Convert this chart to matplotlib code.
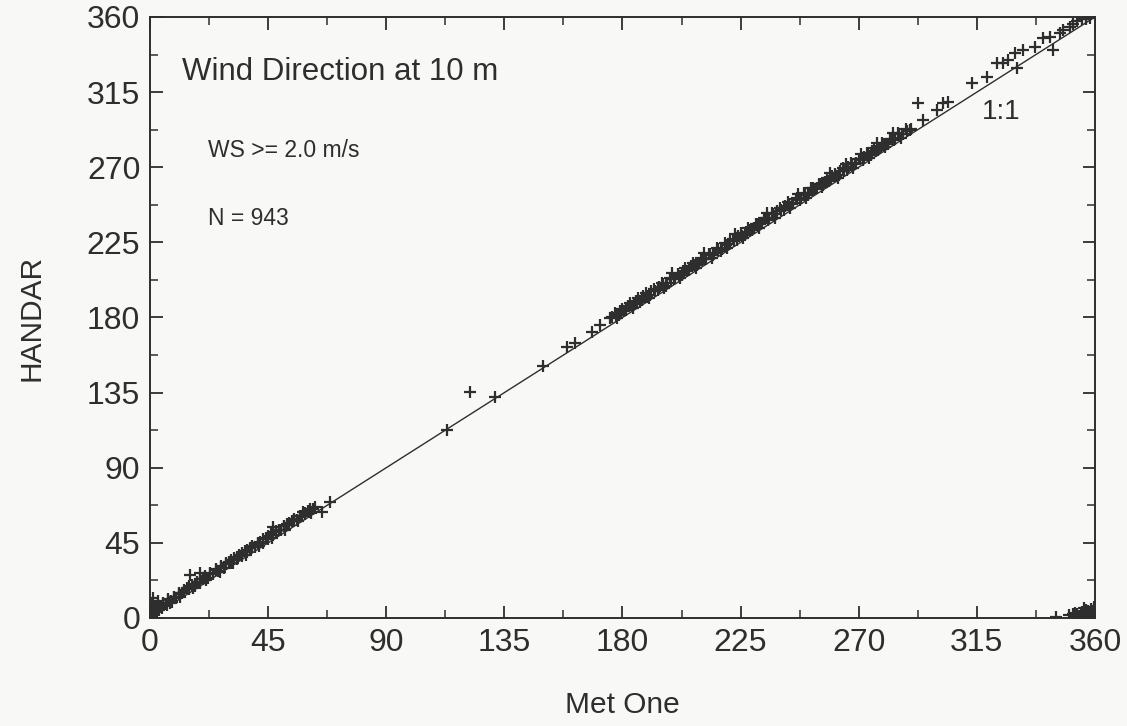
import matplotlib.pyplot as plt
import numpy as np

# Met One (x) vs HANDAR (y) wind direction, degrees
met_one = [
    0.2, 0.3, 0.5, 0.8, 1.0, 1.2, 1.5, 2.0, 2.0, 2.5, 3.0, 3.0, 3.5, 4.0, 4.5, 5.0,
    6.0, 6.5, 7.0, 7.5, 8.0, 8.5, 9.0, 10.0, 11.0, 11.5, 12.0, 13.0, 14.0, 15.0,
    15.2, 16.0, 16.5, 17.0, 18.0, 19.0, 19.0, 20.0, 21.0, 21.5, 22.0, 23.0, 24.0,
    25.0, 26.0, 26.5, 27.0, 28.0, 29.0, 30.0, 31.0, 31.5, 32.0, 33.0, 34.0, 35.0,
    36.0, 36.5, 37.0, 38.0, 39.0, 40.0, 41.0, 41.5, 42.0, 43.0, 44.0, 45.0, 46.0,
    46.5, 47.0, 47.0, 48.0, 49.0, 50.0, 51.0, 51.5, 52.0, 53.0, 54.0, 55.0, 56.0,
    56.5, 57.0, 58.0, 58.3, 59.0, 60.0, 61.0, 61.5, 62.0, 63.0, 65.4, 68.6,
    113.0, 121.9, 131.4, 149.8, 158.7, 161.9, 168.2, 171.4, 175.2,
    176.0, 177.5, 179.0, 180.5, 182.0, 183.5, 185.0, 186.5, 188.0, 189.5, 191.0,
    192.5, 194.0, 195.5, 197.0, 198.5, 200.0, 201.5, 203.0, 204.5, 206.0, 207.5,
    209.0, 210.5, 212.0, 213.5, 215.0, 216.5, 218.0, 219.5, 221.0, 222.5, 224.0,
    225.5, 227.0, 228.5, 230.0, 231.5, 233.0, 234.5, 236.0, 237.5, 239.0, 240.5,
    242.0, 243.5, 245.0, 246.5, 248.0, 249.5, 251.0, 252.5, 254.0, 255.5, 257.0,
    258.5, 260.0, 261.5, 263.0, 264.5, 266.0, 267.5, 269.0, 270.5, 272.0, 273.5,
    275.0, 276.5, 278.0, 279.5, 281.0, 282.5, 284.0, 285.5, 287.0, 288.5, 290.0,
    178.0, 184.0, 190.0, 196.0, 202.0, 208.0, 214.0, 220.0, 226.0, 232.0, 238.0,
    244.0, 250.0, 256.0, 262.0, 268.0, 274.0, 280.0, 286.0,
    199.0, 211.0, 223.0, 235.0, 247.0, 259.0, 265.0, 271.0, 277.0, 283.0,
    292.7, 294.5, 299.7, 302.2, 304.1, 313.0, 318.7, 322.5, 325.0, 326.9, 329.5,
    330.2, 332.7, 337.1, 340.3, 344.1, 342.9, 346.7, 348.0, 350.5, 351.5, 353.0,
    355.0, 356.5, 358.0,
    345.0, 350.0, 351.5, 352.0, 353.0, 354.0, 355.0, 356.0, 356.5, 357.0, 357.5,
    358.0, 358.5, 359.0, 359.3, 359.6, 359.8,
]
handar = [
    2.0, 6.0, 3.0, 9.0, 5.5, 12.0, 2.8, 6.0, 4.0, 4.2, 7.5, 10.0, 4.8, 6.8, 6.0, 8.2,
    8.5, 7.6, 10.6, 8.9, 10.1, 9.8, 12.8, 12.0, 14.2, 12.6, 14.9, 15.5, 18.0, 17.2,
    25.8, 19.5, 17.9, 19.0, 21.7, 20.8, 26.8, 23.4, 24.9, 22.8, 24.1, 27.0, 26.2,
    28.9, 28.0, 27.7, 31.2, 30.1, 32.6, 33.8, 33.0, 32.9, 35.9, 35.2, 37.8, 37.1,
    40.0, 37.8, 39.3, 41.9, 42.6, 42.3, 44.9, 43.0, 45.5, 45.1, 48.2, 47.6, 50.3,
    47.9, 54.7, 49.5, 51.8, 52.9, 52.4, 55.0, 52.8, 56.2, 55.8, 58.1, 59.3, 58.7,
    57.9, 61.0, 60.9, 63.7, 62.8, 64.1, 63.6, 63.0, 65.5, 66.2, 63.7, 69.7,
    112.6, 135.6, 132.6, 151.0, 162.2, 165.0, 171.5, 175.5, 179.6,
    180.5, 180.8, 183.9, 184.0, 186.7, 186.9, 189.8, 189.4, 192.6, 192.3, 195.9,
    195.7, 198.1, 199.8, 200.6, 203.2, 203.9, 205.1, 207.8, 207.9, 210.7, 211.3,
    212.4, 215.2, 215.3, 218.0, 218.4, 220.9, 221.2, 223.5, 225.6, 225.8, 228.9,
    228.6, 231.3, 232.4, 233.5, 236.2, 236.3, 239.4, 239.6, 241.8, 243.9, 244.1,
    246.5, 247.7, 248.6, 251.3, 251.4, 254.2, 254.5, 257.6, 257.3, 259.9, 261.4,
    262.0, 264.6, 264.8, 267.7, 268.0, 270.1, 271.9, 272.5, 274.8, 275.9, 277.1,
    279.6, 279.9, 281.8, 283.9, 284.2, 286.8, 287.1, 289.7, 290.0, 291.9, 293.1,
    179.8, 185.9, 191.7, 197.6, 203.8, 209.5, 215.7, 221.6, 227.9, 233.6, 239.7,
    245.8, 251.6, 257.9, 263.6, 269.8, 275.7, 281.9, 287.8,
    206.5, 218.6, 230.2, 242.8, 254.1, 266.3, 272.0, 278.2, 284.5, 290.4,
    308.4, 298.4, 304.4, 308.4, 308.8, 320.4, 324.3, 332.3, 332.3, 334.3, 338.3,
    329.4, 340.3, 342.3, 347.3, 340.3, 348.3, 350.3, 352.0, 354.3, 356.0, 357.3,
    358.5, 359.0, 359.5,
    0.5, 1.5, 2.5, 0.8, 2.5, 1.2, 3.6, 2.0, 4.8, 0.5, 3.0,
    1.5, 5.5, 2.2, 4.0, 0.8, 6.5,
]

# extra points filling the dense bands (0-62 and 177-290 deg)
band_met_one = [
    1, 3, 5, 7, 9, 11, 13, 15, 17, 19, 21, 23, 25, 27, 29, 31, 33, 35, 37, 39,
    41, 43, 45, 47, 49, 51, 53, 55, 57, 59, 61,
    177, 180, 183, 186, 189, 192, 195, 198, 201, 204, 207, 210, 213, 216, 219,
    222, 225, 228, 231, 234, 237, 240, 243, 246, 249, 252, 255, 258, 261, 264,
    267, 270, 273, 276, 279, 282, 285, 288,
    178.5, 181.5, 184.5, 187.5, 190.5, 193.5, 196.5, 199.5, 202.5, 205.5, 208.5,
    211.5, 214.5, 217.5, 220.5, 223.5, 226.5, 229.5, 232.5, 235.5, 238.5, 241.5,
    244.5, 247.5, 250.5, 253.5, 256.5, 259.5, 262.5, 265.5, 268.5, 271.5, 274.5,
    277.5, 280.5, 283.5, 286.5, 289.5,
    352.5, 354.5, 356.0, 357.5, 358.5, 359.5,
]
band_handar = [
    4.5, 6.9, 8.7, 11.2, 12.4, 15.1, 16.8, 19.3, 20.6, 23.2, 24.8, 26.1, 29.4,
    30.7, 33.1, 34.9, 36.5, 39.2, 40.8, 43.1, 44.6, 47.3, 49.0, 51.4, 52.7, 55.2,
    57.0, 58.8, 61.3, 62.5, 65.0,
    182.6, 185.1, 188.7, 191.4, 194.9, 197.3, 200.8, 203.5, 206.2, 209.9, 212.4,
    215.8, 218.3, 221.6, 224.9, 227.2, 230.7, 233.5, 236.1, 239.8, 242.3, 245.6,
    248.9, 251.2, 254.7, 257.4, 260.1, 263.8, 266.2, 269.5, 272.8, 275.1, 278.6,
    281.3, 284.7, 287.2, 290.5, 293.0,
    181.6, 184.3, 187.9, 190.2, 193.7, 196.4, 199.1, 202.8, 205.3, 208.6, 211.2,
    214.9, 217.4, 220.1, 223.8, 226.3, 229.6, 232.2, 235.9, 238.4, 241.7, 244.3,
    247.8, 250.1, 253.6, 256.9, 259.2, 262.7, 265.4, 268.1, 271.8, 274.3, 277.6,
    280.2, 283.9, 286.4, 289.7, 292.2,
    3.2, 1.8, 5.8, 4.4, 2.8, 5.2,
]

ticks = [0, 45, 90, 135, 180, 225, 270, 315, 360]

plt.rcParams['font.family'] = ['Liberation Sans', 'DejaVu Sans']
ink = '#2e2e2e'

fig = plt.figure(figsize=(11.27, 7.26), dpi=100, facecolor='#f8f8f6')
ax = fig.add_axes([0.1331, 0.1488, 0.8385, 0.8278])
ax.set_facecolor('#f8f8f6')

ax.plot([0, 360], [0, 360], color=ink, lw=1.0, zorder=2)
ax.plot(met_one + band_met_one, handar + band_handar, ls='none', marker='+',
        ms=9, mew=1.6, color=ink, zorder=3, clip_on=True)

ax.set_xlim(0, 360)
ax.set_ylim(0, 360)
ax.set_xticks(ticks)
ax.set_yticks(ticks)
ax.set_xticks(np.arange(22.5, 360, 45), minor=True)
ax.set_yticks(np.arange(22.5, 360, 45), minor=True)
ax.tick_params(which='both', direction='in', top=True, right=True, colors=ink,
               labelcolor=ink, labelsize=23, pad=7)
ax.tick_params(which='major', length=9, width=1.3)
ax.tick_params(which='minor', length=6, width=1.1)
for s in ax.spines.values():
    s.set_color(ink)
    s.set_linewidth(1.4)

ax.set_xlabel('Met One', fontsize=21.5, color=ink, labelpad=24)
ax.set_ylabel('HANDAR', fontsize=21.5, color=ink, labelpad=30)

ax.text(12, 327, 'Wind Direction at 10 m', fontsize=22.5, color=ink, va='center')
ax.text(22, 280, 'WS >= 2.0 m/s', fontsize=16.5, color=ink, va='center')
ax.text(22, 239, 'N = 943', fontsize=16.5, color=ink, va='center')
ax.text(317, 303, '1:1', fontsize=20, color=ink, va='center')

plt.savefig('out.png', dpi=100, facecolor=fig.get_facecolor())
